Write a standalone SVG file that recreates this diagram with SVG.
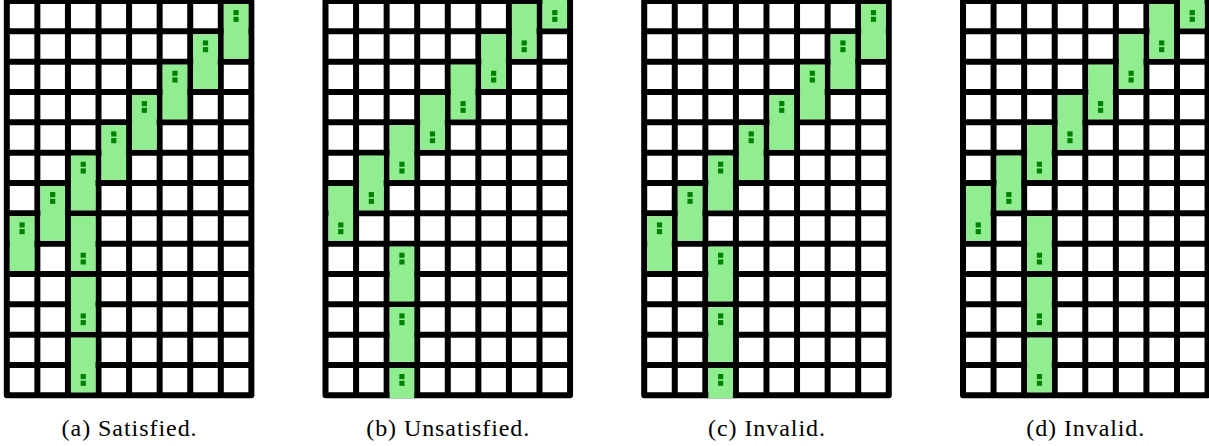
<svg xmlns="http://www.w3.org/2000/svg" xmlns:xlink="http://www.w3.org/1999/xlink" width="1209" height="446" viewBox="0 0 1209 446">
<style>
.bg{fill:#fff}
.gl{fill:none;stroke:#000;stroke-width:6}
.go{fill:#fff;stroke:#000;stroke-width:6;stroke-linejoin:round}
.dom{fill:#90ee90}
.mk{fill:#008000}
.cap{font-family:"Liberation Serif","Times New Roman",serif;font-size:24px;fill:#000;text-anchor:middle}
</style>
<defs>
<clipPath id="gclip" clipPathUnits="userSpaceOnUse"><rect x="-3" y="-3" width="250.56" height="400.29" rx="3"/></clipPath>
<g id="grid">
<rect class="go" x="0" y="0" width="244.56" height="394.29"/>
<path class="gl" d="M30.57 0V394.29M61.14 0V394.29M91.71 0V394.29M122.28 0V394.29M152.85 0V394.29M183.42 0V394.29M213.99 0V394.29M0 30.33H244.56M0 60.66H244.56M0 90.99H244.56M0 121.32H244.56M0 151.65H244.56M0 181.98H244.56M0 212.31H244.56M0 242.64H244.56M0 272.97H244.56M0 303.3H244.56M0 333.63H244.56M0 363.96H244.56"/>
</g>
<g id="dT"><rect class="dom" x="0" y="0" width="24.57" height="54.66"/><rect class="mk" x="9.69" y="6.07" width="5.2" height="5.1"/><rect class="mk" x="9.69" y="12.77" width="5.2" height="5.1"/></g>
<g id="dB"><rect class="dom" x="0" y="0" width="24.57" height="54.66"/><rect class="mk" x="9.69" y="36.4" width="5.2" height="5.1"/><rect class="mk" x="9.69" y="43.1" width="5.2" height="5.1"/></g>
</defs>

<g id="panel-a" transform="translate(6.8,1)">
<use xlink:href="#grid" href="#grid"/>
<g id="dominoes-a" clip-path="url(#gclip)">
<use href="#dT" x="216.99" y="3"/>
<use href="#dT" x="186.42" y="33.33"/>
<use href="#dT" x="155.85" y="63.66"/>
<use href="#dT" x="125.28" y="93.99"/>
<use href="#dT" x="94.71" y="124.32"/>
<use href="#dT" x="64.14" y="154.65"/>
<use href="#dT" x="33.57" y="184.98"/>
<use href="#dT" x="3" y="215.31"/>
<use href="#dB" x="64.14" y="215.31"/>
<use href="#dB" x="64.14" y="275.97"/>
<use href="#dB" x="64.14" y="336.63"/>
</g>
<text class="cap" x="122.28" y="434.7" textLength="135" lengthAdjust="spacing">(a) Satisfied.</text>
</g>

<g id="panel-b" transform="translate(325.5,1)">
<use href="#grid"/>
<g id="dominoes-b" clip-path="url(#gclip)">
<use href="#dB" x="216.99" y="-27.33"/>
<use href="#dB" x="186.42" y="3"/>
<use href="#dB" x="155.85" y="33.33"/>
<use href="#dB" x="125.28" y="63.66"/>
<use href="#dB" x="94.71" y="93.99"/>
<use href="#dB" x="64.14" y="124.32"/>
<use href="#dB" x="33.57" y="154.65"/>
<use href="#dB" x="3" y="184.98"/>
<use href="#dT" x="64.14" y="245.64"/>
<use href="#dT" x="64.14" y="306.3"/>
<use href="#dT" x="64.14" y="366.96"/>
</g>
<text class="cap" x="122.28" y="434.7" textLength="163" lengthAdjust="spacing">(b) Unsatisfied.</text>
</g>

<g id="panel-c" transform="translate(644.2,1)">
<use href="#grid"/>
<g id="dominoes-c" clip-path="url(#gclip)">
<use href="#dT" x="216.99" y="3"/>
<use href="#dT" x="186.42" y="33.33"/>
<use href="#dT" x="155.85" y="63.66"/>
<use href="#dT" x="125.28" y="93.99"/>
<use href="#dT" x="94.71" y="124.32"/>
<use href="#dT" x="64.14" y="154.65"/>
<use href="#dT" x="33.57" y="184.98"/>
<use href="#dT" x="3" y="215.31"/>
<use href="#dT" x="64.14" y="245.64"/>
<use href="#dT" x="64.14" y="306.3"/>
<use href="#dT" x="64.14" y="366.96"/>
</g>
<text class="cap" x="122.28" y="434.7" textLength="117" lengthAdjust="spacing">(c) Invalid.</text>
</g>

<g id="panel-d" transform="translate(963,1)">
<use href="#grid"/>
<g id="dominoes-d" clip-path="url(#gclip)">
<use href="#dB" x="216.99" y="-27.33"/>
<use href="#dB" x="186.42" y="3"/>
<use href="#dB" x="155.85" y="33.33"/>
<use href="#dB" x="125.28" y="63.66"/>
<use href="#dB" x="94.71" y="93.99"/>
<use href="#dB" x="64.14" y="124.32"/>
<use href="#dB" x="33.57" y="154.65"/>
<use href="#dB" x="3" y="184.98"/>
<use href="#dB" x="64.14" y="215.31"/>
<use href="#dB" x="64.14" y="275.97"/>
<use href="#dB" x="64.14" y="336.63"/>
</g>
<text class="cap" x="122.28" y="434.7" textLength="118" lengthAdjust="spacing">(d) Invalid.</text>
</g>
</svg>
